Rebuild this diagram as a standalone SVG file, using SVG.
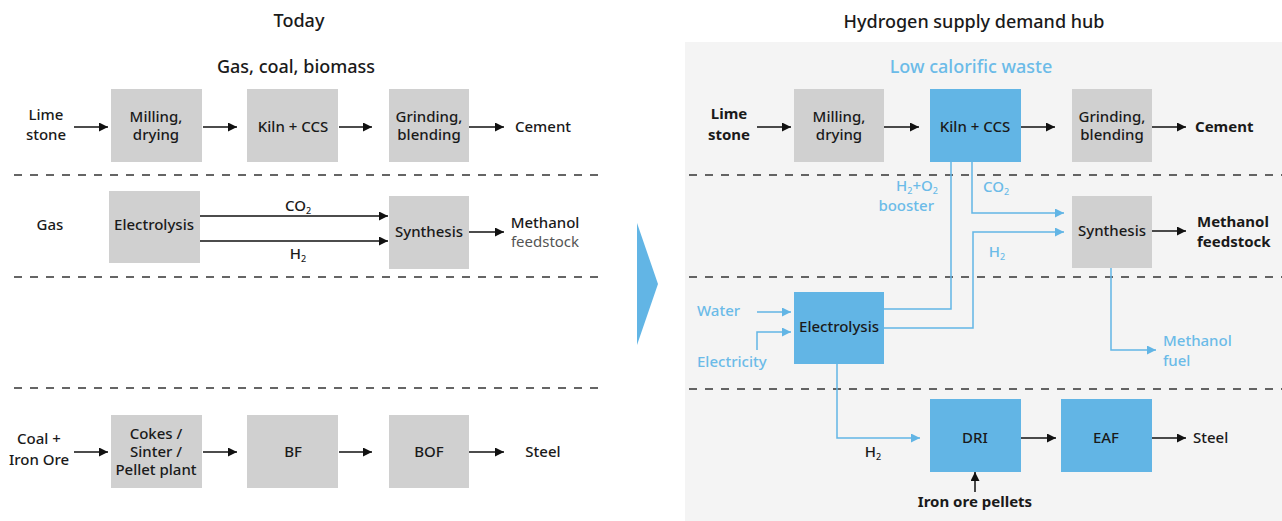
<svg xmlns="http://www.w3.org/2000/svg" width="1282" height="521" viewBox="0 0 1282 521">
<style>
text{font-family:"Noto Sans","Open Sans","Liberation Sans",sans-serif;font-size:15px;font-weight:500;fill:#1a1a1a}
.t{font-size:18px;text-anchor:middle;font-weight:500}
.c{text-anchor:middle}
.b{font-weight:700}
.bl{fill:#6bbbe8}
.g{fill:#555;font-weight:400}
.sub{font-size:9px}
.box{fill:#d0d0d0}
.bbox{fill:#62b5e5}
.dash{stroke:#333;stroke-width:1.3;stroke-dasharray:8 8;fill:none}
.ar{stroke:#111;stroke-width:1.5;fill:none;marker-end:url(#ah)}
.bar{stroke:#62b5e5;stroke-width:1.5;fill:none;marker-end:url(#bh)}
.bln{stroke:#62b5e5;stroke-width:1.5;fill:none}
</style>
<defs>
<marker id="ah" viewBox="0 0 10 10" refX="10" refY="5" markerWidth="9" markerHeight="9" markerUnits="userSpaceOnUse" orient="auto"><path d="M0,0 L10,5 L0,10 z" fill="#111"/></marker>
<marker id="bh" viewBox="0 0 10 10" refX="10" refY="5" markerWidth="9" markerHeight="9" markerUnits="userSpaceOnUse" orient="auto"><path d="M0,0 L10,5 L0,10 z" fill="#62b5e5"/></marker>
</defs>
<rect x="685" y="42" width="597" height="479" fill="#f4f4f4"/>
<polygon points="637,223 658,284 637,345" fill="#62b5e5"/>
<g id="titles">
<text class="t" x="299" y="27">Today</text>
<text class="t" x="296" y="73">Gas, coal, biomass</text>
<text class="t" x="974" y="28">Hydrogen supply demand hub</text>
<text class="t bl" x="971" y="73">Low calorific waste</text>
</g>
<g id="separators">
<line class="dash" x1="14" y1="175" x2="604" y2="175"/>
<line class="dash" x1="14" y1="277" x2="604" y2="277"/>
<line class="dash" x1="14" y1="388" x2="604" y2="388"/>
<line class="dash" x1="689" y1="175" x2="1282" y2="175"/>
<line class="dash" x1="689" y1="277" x2="1282" y2="277"/>
<line class="dash" x1="689" y1="389" x2="1282" y2="389"/>
</g>
<g id="connectors">
<line class="ar" x1="74" y1="127" x2="108" y2="127"/>
<line class="ar" x1="203" y1="127" x2="237" y2="127"/>
<line class="ar" x1="339" y1="127" x2="372" y2="127"/>
<line class="ar" x1="469" y1="127" x2="504" y2="127"/>
<line class="ar" x1="200" y1="216" x2="388" y2="216"/>
<line class="ar" x1="200" y1="241" x2="388" y2="241"/>
<line class="ar" x1="469" y1="232" x2="504" y2="232"/>
<line class="ar" x1="74" y1="452" x2="108" y2="452"/>
<line class="ar" x1="203" y1="452" x2="237" y2="452"/>
<line class="ar" x1="339" y1="452" x2="372" y2="452"/>
<line class="ar" x1="469" y1="452" x2="504" y2="452"/>
<line class="ar" x1="757" y1="127" x2="791" y2="127"/>
<line class="ar" x1="884" y1="127" x2="919" y2="127"/>
<line class="ar" x1="1021" y1="127" x2="1055" y2="127"/>
<line class="ar" x1="1152" y1="127" x2="1186" y2="127"/>
<line class="ar" x1="1152" y1="231" x2="1186" y2="231"/>
<line class="ar" x1="1021" y1="438" x2="1056" y2="438"/>
<line class="ar" x1="1152" y1="438" x2="1186" y2="438"/>
<line class="ar" x1="975" y1="492" x2="975" y2="472"/>
<polyline class="bln" points="884,309 951,309 951,162"/>
<polyline class="bar" points="972,162 972,213 1064,213"/>
<polyline class="bar" points="884,328 973,328 973,232 1064,232"/>
<line class="bar" x1="757" y1="312" x2="791" y2="312"/>
<polyline class="bar" points="757,350 757,332 791,332"/>
<polyline class="bar" points="1111,268 1111,350 1156,350"/>
<polyline class="bar" points="837,364 837,438 920,438"/>
</g>
<g id="left-labels">
<text class="c" x="46" y="120">Lime</text>
<text class="c" x="46" y="140">stone</text>
<text class="c" x="543" y="132">Cement</text>
<text class="c" x="50" y="230">Gas</text>
<text class="c" x="298" y="211">CO<tspan class="sub" dy="3">2</tspan></text>
<text class="c" x="298" y="259">H<tspan class="sub" dy="3">2</tspan></text>
<text class="c" x="545" y="228">Methanol</text>
<text class="c g" x="545" y="247">feedstock</text>
<text class="c" x="39" y="444">Coal +</text>
<text class="c" x="39" y="465">Iron Ore</text>
<text class="c" x="543" y="457">Steel</text>
</g>
<g id="n-milling-l"><rect class="box" x="111" y="89" width="91" height="73"/><text class="c" x="156" y="122">Milling,</text><text class="c" x="156" y="140">drying</text></g>
<g id="n-kiln-l"><rect class="box" x="247" y="89" width="91" height="73"/><text class="c" x="293" y="132">Kiln + CCS</text></g>
<g id="n-grinding-l"><rect class="box" x="389" y="89" width="80" height="73"/><text class="c" x="429" y="122">Grinding,</text><text class="c" x="429" y="140">blending</text></g>
<g id="n-electrolysis-l"><rect class="box" x="109" y="191" width="91" height="72"/><text class="c" x="154" y="230">Electrolysis</text></g>
<g id="n-synthesis-l"><rect class="box" x="389" y="196" width="80" height="73"/><text class="c" x="429" y="237">Synthesis</text></g>
<g id="n-cokes"><rect class="box" x="111" y="415" width="91" height="73"/><text class="c" x="156" y="439">Cokes /</text><text class="c" x="156" y="457">Sinter /</text><text class="c" x="156" y="475">Pellet plant</text></g>
<g id="n-bf"><rect class="box" x="247" y="415" width="91" height="73"/><text class="c" x="293" y="457">BF</text></g>
<g id="n-bof"><rect class="box" x="389" y="415" width="80" height="73"/><text class="c" x="429" y="457">BOF</text></g>
<g id="right-labels">
<text class="c b" x="729" y="119">Lime</text>
<text class="c b" x="729" y="140">stone</text>
<text class="b" x="1195" y="132">Cement</text>
<text class="b" x="1197" y="227">Methanol</text>
<text class="b" x="1197" y="247">feedstock</text>
<text class="bl" x="938" y="191" text-anchor="end">H<tspan class="sub" dy="3">2</tspan><tspan dy="-3">+O</tspan><tspan class="sub" dy="3">2</tspan></text>
<text class="bl" x="934" y="211" text-anchor="end">booster</text>
<text class="bl" x="983" y="192">CO<tspan class="sub" dy="3">2</tspan></text>
<text class="bl c" x="997" y="257">H<tspan class="sub" dy="3">2</tspan></text>
<text class="bl" x="697" y="316">Water</text>
<text class="bl" x="697" y="367">Electricity</text>
<text class="bl" x="1163" y="346">Methanol</text>
<text class="bl" x="1163" y="366">fuel</text>
<text class="c" x="873" y="457">H<tspan class="sub" dy="3">2</tspan></text>
<text x="1193" y="443">Steel</text>
<text class="c b" x="975" y="507">Iron ore pellets</text>
</g>
<g id="n-milling-r"><rect class="box" x="794" y="89" width="90" height="73"/><text class="c" x="839" y="122">Milling,</text><text class="c" x="839" y="140">drying</text></g>
<g id="n-kiln-r"><rect class="bbox" x="930" y="89" width="91" height="73"/><text class="c" x="975" y="132">Kiln + CCS</text></g>
<g id="n-grinding-r"><rect class="box" x="1072" y="89" width="80" height="73"/><text class="c" x="1112" y="122">Grinding,</text><text class="c" x="1112" y="140">blending</text></g>
<g id="n-synthesis-r"><rect class="box" x="1072" y="196" width="80" height="72"/><text class="c" x="1112" y="236">Synthesis</text></g>
<g id="n-electrolysis-r"><rect class="bbox" x="794" y="292" width="90" height="72"/><text class="c" x="839" y="332">Electrolysis</text></g>
<g id="n-dri"><rect class="bbox" x="930" y="399" width="91" height="73"/><text class="c" x="975" y="443">DRI</text></g>
<g id="n-eaf"><rect class="bbox" x="1061" y="399" width="91" height="73"/><text class="c" x="1106" y="443">EAF</text></g>
</svg>
